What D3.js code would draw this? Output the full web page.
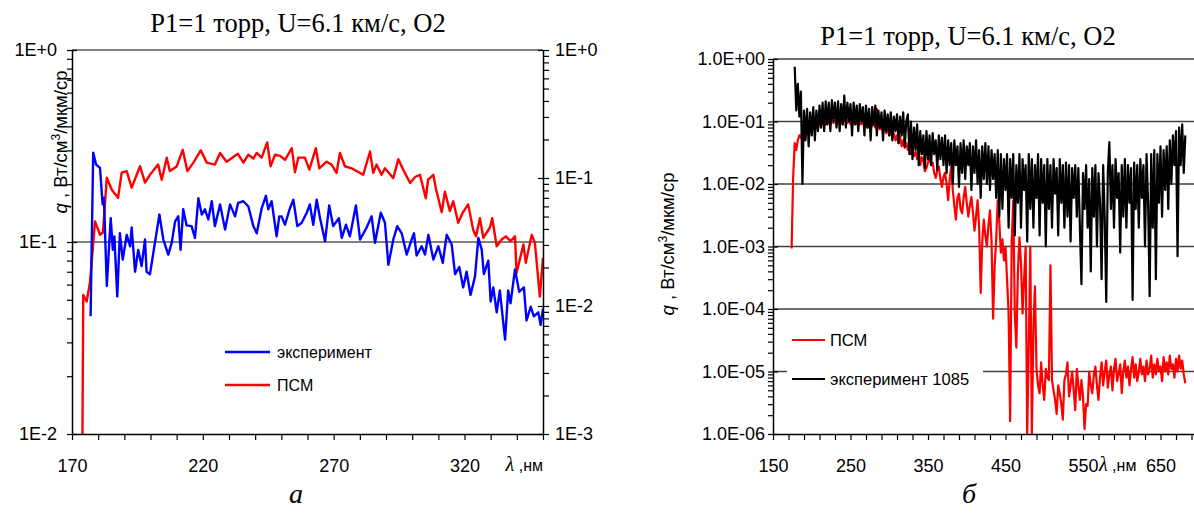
<!DOCTYPE html>
<html><head><meta charset="utf-8">
<script src="https://cdn.jsdelivr.net/npm/d3@7"></script>
<style>body{margin:0;background:#fff}svg{display:block}</style>
</head><body>
<svg id="c" width="1194" height="515"></svg>
<script>
// ---------------- DATA ----------------
const titleText = "P1=1 торр, U=6.1 км/с, O2";
const panelLabels = ["а", "б"];

// Panel a
const leftXTicks = [170, 220, 270, 320];
const leftYDecades = [0.01, 0.1, 1];
const leftYLabels = ["1E-2", "1E-1", "1E+0"];
const leftY2Decades = [0.001, 0.01, 0.1, 1];
const leftY2Labels = ["1E-3", "1E-2", "1E-1", "1E+0"];
const legendA = ["эксперимент", "ПСМ"];

const psmA_nm = [174.0,174.3,175.6,176.9,178.8,180.7,181.8,183.3,185.2,187.6,
189.0,190.9,192.8,196.0,197.9,199.8,202.9,204.3,206.2,207.4,
210.0,212.3,214.1,216.4,219.2,221.5,224.6,226.6,229.1,233.4,
235.5,237.4,239.3,240.6,242.5,244.6,245.9,247.6,249.5,251.4,
254.0,255.2,256.5,259.0,260.7,263.2,264.5,267.3,269.2,271.1,
272.4,274.3,276.9,278.8,281.3,283.9,285.1,286.4,288.3,289.6,
292.8,294.7,296.6,299.2,301.1,303.0,305.2,306.1,308.1,309.1,
311.3,312.5,314.4,315.7,317.6,319.3,321.4,323.3,324.4,325.9,
327.2,329.7,330.6,332.3,334.2,335.8,337.6,339.3,339.9,342.5,
343.4,345.7,346.9,348.8,350.0];
const psmA_q = [0.010,0.053,0.049,0.062,0.128,0.109,0.112,0.216,0.187,0.170,
0.230,0.234,0.192,0.248,0.204,0.224,0.253,0.211,0.275,0.234,
0.247,0.302,0.234,0.259,0.300,0.259,0.253,0.291,0.262,0.288,
0.259,0.285,0.272,0.291,0.275,0.330,0.248,0.285,0.281,0.268,
0.308,0.231,0.275,0.275,0.238,0.308,0.242,0.262,0.253,0.229,
0.291,0.248,0.242,0.234,0.224,0.296,0.229,0.253,0.224,0.242,
0.215,0.270,0.238,0.203,0.218,0.224,0.169,0.211,0.224,0.189,
0.143,0.183,0.145,0.163,0.126,0.142,0.157,0.116,0.107,0.133,
0.105,0.119,0.133,0.095,0.103,0.107,0.101,0.107,0.069,0.097,
0.078,0.109,0.099,0.052,0.083];

const expA_nm = [177.1,178.1,179.2,180.0,180.7,181.7,182.2,183.3,184.8,185.6,
186.2,187.3,188.3,189.4,190.9,192.2,192.8,194.1,195.3,196.6,
197.9,198.5,199.8,201.1,203.4,204.9,206.8,208.1,209.4,210.6,
211.5,212.5,213.8,215.7,217.0,218.3,219.6,220.8,222.1,223.4,
224.6,226.6,228.5,230.4,232.3,233.5,235.5,237.4,239.3,240.6,
242.5,244.1,245.0,246.3,248.2,249.2,250.1,251.4,253.3,254.6,
256.1,257.8,259.7,260.9,262.2,263.5,264.8,266.7,268.3,269.8,
272.0,273.1,274.7,276.2,278.5,280.1,282.6,284.5,285.8,288.0,
289.6,290.9,292.8,294.3,296.0,297.9,299.8,300.7,301.7,303.6,
304.9,306.2,308.1,310.0,311.7,313.2,315.1,316.4,318.0,319.5,
320.8,322.3,324.0,325.3,326.6,327.4,329.1,330.0,331.0,332.3,
333.5,335.5,336.7,337.6,339.3,340.9,342.7,343.7,345.3,346.5,
348.2,349.1,350.0];
const expA_q = [0.041,0.292,0.253,0.248,0.243,0.157,0.170,0.059,0.133,0.091,
0.107,0.052,0.111,0.081,0.109,0.095,0.119,0.070,0.091,0.075,
0.103,0.070,0.068,0.088,0.139,0.103,0.086,0.099,0.128,0.136,
0.091,0.148,0.122,0.121,0.105,0.169,0.139,0.148,0.131,0.163,
0.121,0.157,0.116,0.157,0.136,0.160,0.163,0.153,0.121,0.111,
0.150,0.174,0.148,0.163,0.107,0.136,0.136,0.123,0.150,0.166,
0.121,0.126,0.142,0.157,0.123,0.166,0.133,0.101,0.155,0.121,
0.133,0.105,0.123,0.107,0.155,0.103,0.119,0.136,0.099,0.142,
0.126,0.076,0.103,0.121,0.111,0.086,0.103,0.111,0.085,0.095,
0.086,0.109,0.081,0.095,0.078,0.109,0.097,0.068,0.074,0.058,
0.070,0.053,0.066,0.105,0.091,0.068,0.080,0.049,0.058,0.043,
0.056,0.031,0.056,0.048,0.072,0.055,0.058,0.039,0.046,0.041,
0.043,0.037,0.045];

// Panel б (spectra sampled every 2 nm)
const rightXTicks = [150, 250, 350, 450, 550, 650];
const rightYDecades = [1e-6, 1e-5, 1e-4, 1e-3, 1e-2, 1e-1, 1];
const rightYLabels = ["1.0E-06","1.0E-05","1.0E-04","1.0E-03","1.0E-02","1.0E-01","1.0E+00"];
const legendB = ["ПСМ", "эксперимент 1085"];

const psmB_start = 174, psmB_step = 2;
const psmB_q = [
0.00093,0.013,0.045,0.035,0.05,0.06,0.055,0.07,0.075,0.065,
0.08,0.07,0.085,0.075,0.09,0.08,0.09,0.08,0.095,0.085,
0.1,0.085,0.095,0.09,0.1,0.09,0.1,0.095,0.1,0.09,
0.11,0.095,0.1,0.09,0.11,0.1,0.095,0.105,0.09,0.1,
0.095,0.09,0.1,0.085,0.095,0.09,0.1,0.085,0.09,0.08,
0.095,0.08,0.085,0.09,0.08,0.16,0.08,0.075,0.085,0.07,
0.08,0.065,0.075,0.06,0.07,0.055,0.065,0.05,0.06,0.045,
0.057,0.04,0.05,0.038,0.045,0.035,0.05,0.03,0.035,0.028,
0.033,0.025,0.031,0.02,0.027,0.024,0.016,0.018,0.022,0.029,
0.02,0.022,0.015,0.0125,0.017,0.019,0.012,0.009,0.013,0.015,
0.01,0.0055,0.012,0.019,0.008,0.0045,0.0027,0.006,0.007,0.004,
0.0034,0.006,0.009,0.005,0.003,0.0045,0.0062,0.0035,0.0018,0.003,
0.0055,0.002,0.00018,0.0012,0.0027,0.0015,0.001,0.0022,0.0038,0.0012,
0.00007,0.0005,0.0013,0.0055,0.0025,0.0008,0.0013,0.0006,0.001,0.0003,
0.000085,0.0000016,0.0012,0.0055,0.000085,0.000024,0.0004,0.0014,0.00054,0.000085,
0.0003,0.001,0.000001,0.000024,0.001,0.000001,0.00005,0.00023,0.000011,0.000006,
4.5e-6,1.4e-5,6e-6,3.5e-6,1.1e-5,8e-6,7.3e-6,5e-4,7.3e-6,5e-6,
3.5e-6,2.1e-6,6e-6,4.5e-6,3e-6,1.7e-6,7.3e-6,9e-6,1.4e-5,4e-6,
6e-6,1e-5,5e-6,2.4e-6,1.1e-5,6e-6,3.5e-6,7.3e-6,4e-6,1.2e-6,
3e-6,2.8e-6,1e-5,6e-6,4.5e-6,9e-6,1.2e-5,6e-6,3.5e-6,8e-6,
1.4e-5,6e-6,1e-5,1.5e-5,5.5e-6,9e-6,1.2e-5,5e-6,1.1e-5,1.6e-5,
7e-6,9e-6,1.3e-5,4.5e-6,1e-5,1.5e-5,8e-6,1.2e-5,6e-6,1.1e-5,
1.7e-5,8e-6,1.3e-5,7e-6,1e-5,1.6e-5,9e-6,1.2e-5,7e-6,1.5e-5,
9e-6,1.1e-5,1.8e-5,8e-6,1.3e-5,9e-6,1.6e-5,1e-5,1.2e-5,7e-6,
1.7e-5,1e-5,1.4e-5,9e-6,1.8e-5,1.1e-5,1.3e-5,8e-6,1.6e-5,1e-5,
1.8e-5,1.1e-5,1.5e-5,9e-6,6.5e-6];

const expB_start = 178, expB_step = 2;
const expB_q = [
0.75,0.15,0.4,0.12,0.3,0.01,0.15,0.05,0.16,0.04,
0.14,0.06,0.17,0.05,0.15,0.07,0.18,0.08,0.2,0.07,
0.21,0.09,0.2,0.07,0.22,0.1,0.2,0.08,0.21,0.07,
0.19,0.09,0.26,0.08,0.2,0.1,0.19,0.06,0.2,0.09,
0.18,0.07,0.19,0.1,0.17,0.06,0.18,0.08,0.16,0.05,
0.17,0.09,0.18,0.06,0.15,0.08,0.14,0.05,0.15,0.07,
0.13,0.06,0.14,0.05,0.12,0.07,0.13,0.045,0.12,0.06,
0.14,0.04,0.1,0.13,0.03,0.1,0.025,0.08,0.035,0.09,
0.02,0.07,0.03,0.06,0.018,0.07,0.025,0.06,0.02,0.065,
0.03,0.05,0.017,0.06,0.025,0.055,0.02,0.06,0.015,0.05,
0.02,0.045,0.01,0.05,0.02,0.04,0.009,0.045,0.015,0.05,
0.012,0.04,0.02,0.045,0.008,0.04,0.015,0.05,0.01,0.035,
0.006,0.04,0.012,0.045,0.01,0.04,0.008,0.035,0.012,0.03,
0.006,0.035,0.003,0.03,0.004,0.025,0.008,0.03,0.002,0.025,
0.006,0.03,0.0015,0.02,0.005,0.03,0.002,0.025,0.008,0.02,
0.0012,0.03,0.004,0.025,0.002,0.02,0.006,0.03,0.0015,0.025,
0.005,0.02,0.001,0.025,0.004,0.02,0.002,0.025,0.007,0.018,
0.0015,0.025,0.005,0.02,0.002,0.022,0.003,0.02,0.0012,0.018,
0.006,0.02,0.003,0.018,0.002,0.00025,0.015,0.004,0.02,0.002,
0.012,0.0004,0.018,0.003,0.02,0.001,0.015,0.005,0.0003,0.02,
0.003,0.00013,0.015,0.047,0.004,0.02,0.002,0.025,0.006,0.015,
0.0008,0.02,0.003,0.025,0.002,0.02,0.005,0.018,0.00014,0.022,
0.004,0.02,0.002,0.025,0.006,0.02,0.001,0.03,0.005,0.00016,
0.03,0.002,0.035,0.0003,0.03,0.005,0.04,0.003,0.035,0.008,
0.04,0.004,0.05,0.01,0.06,0.02,0.07,0.0007,0.08,0.02,
0.09,0.015,0.06];

// ---------------- DRAWING ----------------
const sans = "'Liberation Sans', Arial, sans-serif";
const serif = "'Liberation Serif', 'Times New Roman', serif";
const svg = d3.select("#c");
const isMajor = d => Math.abs(Math.log10(d) - Math.round(Math.log10(d))) < 1e-6;
const labelFor = (decs, labs) => d => { const i = decs.findIndex(v => Math.abs(Math.log10(v) - Math.log10(d)) < 1e-6); return i >= 0 ? labs[i] : ""; };

function styleAxis(g, size) {
  g.select(".domain").attr("stroke", "#000").attr("stroke-width", 1.5);
  g.selectAll(".tick line").attr("stroke", "#000").attr("stroke-width", 1.2);
  g.selectAll(".tick text").attr("font-family", sans).attr("font-size", size).attr("fill", "#000");
}
function yTitle(x, y) {
  const t = svg.append("text").attr("transform", `translate(${x},${y}) rotate(-90)`)
    .attr("text-anchor", "middle").attr("font-family", sans).attr("font-size", 18.5).attr("fill", "#000");
  t.append("tspan").attr("font-style", "italic").text("q");
  t.append("tspan").text(" , Вт/см");
  t.append("tspan").attr("dy", -7).attr("font-size", 12).text("3");
  t.append("tspan").attr("dy", 7).text("/мкм/ср");
}
function lambda(x, y, anchor) {
  const t = svg.append("text").attr("x", x).attr("y", y).attr("fill", "#000").attr("text-anchor", anchor);
  t.append("tspan").attr("font-family", serif).attr("font-style", "italic").attr("font-size", 20).text("λ");
  t.append("tspan").attr("font-family", sans).attr("font-size", 16).text(" ,нм");
}

// ===== Panel a =====
const A = {x0: 72, x1: 543, y0: 50, y1: 434};
const xA = d3.scaleLinear().domain([170, 350]).range([A.x0, A.x1]);
const yA = d3.scaleLog().domain([0.01, 1]).range([A.y1, A.y0]);
const yA2 = d3.scaleLog().domain([0.001, 1]).range([A.y1, A.y0]);

svg.append("g").selectAll("line").data([0.1, 1]).join("line")
  .attr("x1", A.x0).attr("x2", A.x1).attr("y1", d => yA(d)).attr("y2", d => yA(d))
  .attr("stroke", "#808080").attr("stroke-width", 2);

svg.append("defs").append("clipPath").attr("id", "clipA").append("rect")
  .attr("x", A.x0).attr("y", A.y0).attr("width", A.x1 - A.x0).attr("height", A.y1 - A.y0 + 1);
svg.append("defs").append("clipPath").attr("id", "clipB").append("rect")
  .attr("x", 773).attr("y", 40).attr("width", 430).attr("height", 395);

const lineA = d3.line().x(d => xA(d[0])).y(d => yA(d[1]));
svg.append("path").datum(psmA_nm.map((v, i) => [v, psmA_q[i]])).attr("clip-path", "url(#clipA)")
  .attr("d", lineA).attr("fill", "none").attr("stroke", "#ff0000").attr("stroke-width", 2.4).attr("stroke-linejoin", "round");
svg.append("path").datum(expA_nm.map((v, i) => [v, expA_q[i]])).attr("clip-path", "url(#clipA)")
  .attr("d", lineA).attr("fill", "none").attr("stroke", "#0000ff").attr("stroke-width", 2.4).attr("stroke-linejoin", "round");

const gYA = svg.append("g").attr("transform", `translate(${A.x0},0)`)
  .call(d3.axisLeft(yA).tickValues(yA.ticks()).tickSize(5).tickSizeOuter(0).tickPadding(10)
    .tickFormat(labelFor(leftYDecades, leftYLabels)));
gYA.selectAll(".tick").filter(isMajor).select("line").attr("x1", 5);
styleAxis(gYA, 18);

const gYA2 = svg.append("g").attr("transform", `translate(${A.x1},0)`)
  .call(d3.axisRight(yA2).tickValues(yA2.ticks()).tickSize(6).tickSizeOuter(0).tickPadding(6)
    .tickFormat(labelFor(leftY2Decades, leftY2Labels)));
gYA2.selectAll(".tick").filter(isMajor).select("line").attr("x1", -5);
styleAxis(gYA2, 18);

const gXA = svg.append("g").attr("transform", `translate(0,${A.y1})`)
  .call(d3.axisBottom(xA).tickValues(d3.range(170, 351, 10)).tickSize(6).tickSizeOuter(0).tickPadding(19)
    .tickFormat(d => leftXTicks.includes(d) ? d : ""));
styleAxis(gXA, 18);
lambda(543, 471, "end");

yTitle(67, 142);
svg.append("text").attr("x", 298).attr("y", 32).attr("text-anchor", "middle")
  .attr("font-family", serif).attr("font-size", 26.5).attr("fill", "#000").text(titleText);

// legend a
const legA = [{t: legendA[0], c: "#0000ff", y: 352}, {t: legendA[1], c: "#ff0000", y: 385}];
legA.forEach(l => {
  svg.append("line").attr("x1", 225).attr("x2", 270).attr("y1", l.y).attr("y2", l.y).attr("stroke", l.c).attr("stroke-width", 2.4);
  svg.append("text").attr("x", 277).attr("y", l.y).attr("dy", "0.35em").attr("font-family", sans).attr("font-size", 16).attr("fill", "#000").text(l.t);
});
svg.append("text").attr("x", 296).attr("y", 503).attr("text-anchor", "middle")
  .attr("font-family", serif).attr("font-style", "italic").attr("font-size", 28).attr("fill", "#000").text(panelLabels[0]);

// ===== Panel б =====
const B = {x0: 773, x1: 1199.25, y0: 59, y1: 434};
const xB = d3.scaleLinear().domain([150, 700]).range([B.x0, B.x1]);
const yB = d3.scaleLog().domain([1e-6, 1]).range([B.y1, B.y0]);

svg.append("g").selectAll("line").data(rightYDecades.slice(1)).join("line")
  .attr("x1", B.x0).attr("x2", B.x1).attr("y1", d => yB(d)).attr("y2", d => yB(d))
  .attr("stroke", "#404040").attr("stroke-width", 1.5);

const lineB = d3.line().x(d => xB(d[0])).y(d => yB(d[1]));
svg.append("path").datum(psmB_q.map((v, i) => [psmB_start + i * psmB_step, v])).attr("clip-path", "url(#clipB)")
  .attr("d", lineB).attr("fill", "none").attr("stroke", "#ff0000").attr("stroke-width", 2.2).attr("stroke-linejoin", "round");
svg.append("path").datum(expB_q.map((v, i) => [expB_start + i * expB_step, v])).attr("clip-path", "url(#clipB)")
  .attr("d", lineB).attr("fill", "none").attr("stroke", "#000").attr("stroke-width", 2.2).attr("stroke-linejoin", "round");

const gYB = svg.append("g").attr("transform", `translate(${B.x0},0)`)
  .call(d3.axisLeft(yB).tickValues(yB.ticks()).tickSize(5).tickSizeOuter(0).tickPadding(3)
    .tickFormat(labelFor(rightYDecades, rightYLabels)));
gYB.selectAll(".tick").filter(isMajor).select("line").attr("x1", 5);
styleAxis(gYB, 18);

const gXB = svg.append("g").attr("transform", `translate(0,${B.y1})`)
  .call(d3.axisBottom(xB).tickValues(d3.range(150, 700, 20)).tickSize(6).tickSizeOuter(0).tickPadding(19)
    .tickFormat(d => rightXTicks.includes(d) ? d : ""));
styleAxis(gXB, 18);
lambda(1099, 471, "start");

yTitle(674, 244);
svg.append("text").attr("x", 968).attr("y", 45).attr("text-anchor", "middle")
  .attr("font-family", serif).attr("font-size", 26.5).attr("fill", "#000").text(titleText);

// legend б
svg.append("rect").attr("x", 787).attr("y", 325).attr("width", 196).attr("height", 67).attr("fill", "#fff");
const legB = [{t: legendB[0], c: "#ff0000", y: 340}, {t: legendB[1], c: "#000", y: 379}];
legB.forEach(l => {
  svg.append("line").attr("x1", 792).attr("x2", 825).attr("y1", l.y).attr("y2", l.y).attr("stroke", l.c).attr("stroke-width", 2.2);
  svg.append("text").attr("x", 830).attr("y", l.y).attr("dy", "0.35em").attr("font-family", sans).attr("font-size", 16.5).attr("fill", "#000").text(l.t);
});
svg.append("text").attr("x", 969).attr("y", 503).attr("text-anchor", "middle")
  .attr("font-family", serif).attr("font-style", "italic").attr("font-size", 28).attr("fill", "#000").text(panelLabels[1]);
</script>
</body></html>
